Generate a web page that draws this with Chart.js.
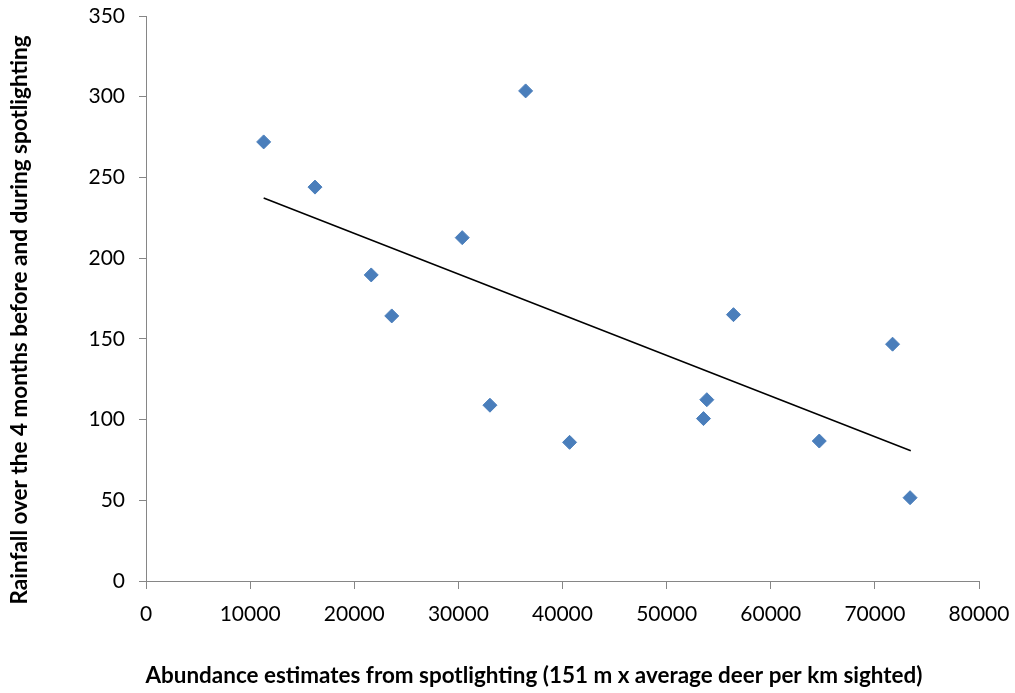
<!DOCTYPE html>
<html>
<head>
<meta charset="utf-8">
<script src="https://cdn.jsdelivr.net/npm/chart.js@4.4.1/dist/chart.umd.min.js"></script>
<style>
    html, body { margin: 0; padding: 0; background: #fff; }
    #wrap { width: 1015px; height: 693px; }
</style>
</head>
<body>
<div id="wrap"><canvas id="chart" width="1015" height="693"></canvas></div>
<script>
// Observed points: abundance (x) vs rainfall (y)
const abundance = [11300, 16230, 21630, 23600, 30370, 36460, 33030, 40680, 53860, 53540, 56420, 64660, 71700, 73380];
const rainfall = [272, 244, 189.6, 164.2, 212.7, 303.6, 108.9, 85.9, 112.3, 100.6, 165, 86.7, 146.7, 51.6];

// Linear trendline end points
const trendX = [11300, 73450];
const trendY = [237.3, 80.7];

const xTitle = 'Abundance estimates from spotlighting (151 m x average deer per km sighted)';
const yTitle = 'Rainfall over the 4 months before and during spotlighting';

const axisGrey = '#868686';
const tickFont = { family: 'Lato', size: 21 };

// Excel-style axis titles (not centred on the plot area)
const axisTitles = {
    id: 'axisTitles',
    afterDraw(chart) {
        const ctx = chart.ctx;
        ctx.save();
        ctx.fillStyle = '#000';
        ctx.font = 'bold 22.5px Lato';
        ctx.textAlign = 'center';
        ctx.textBaseline = 'middle';
        ctx.fillText(xTitle, 534, 676, 777);
        ctx.translate(20, 320);
        ctx.rotate(-Math.PI / 2);
        ctx.fillText(yTitle, 0, 0, 577);
        ctx.restore();
    }
};

new Chart(document.getElementById('chart').getContext('2d'), {
    type: 'scatter',
    data: {
        datasets: [
            {
                label: 'Rainfall',
                data: abundance.map((x, i) => ({ x: x, y: rainfall[i] })),
                pointStyle: 'rectRot',
                pointRadius: 7,
                pointBackgroundColor: '#4A7EBB',
                pointBorderColor: '#4A7EBB',
                pointBorderWidth: 1
            },
            {
                label: 'Linear trend',
                data: trendX.map((x, i) => ({ x: x, y: trendY[i] })),
                showLine: true,
                borderColor: '#000',
                borderWidth: 1.5,
                pointRadius: 0
            }
        ]
    },
    options: {
        responsive: false,
        animation: false,
        layout: { padding: { left: 0, top: 16, right: 36, bottom: 0 } },
        plugins: {
            legend: { display: false },
            tooltip: { enabled: false }
        },
        scales: {
            x: {
                type: 'linear',
                min: 0,
                max: 80000,
                afterFit: (scale) => {
                    scale.height = 112;
                    scale.paddingLeft = 0;
                    scale.paddingRight = 0;
                },
                border: { display: true, color: axisGrey, width: 1 },
                grid: { drawOnChartArea: false, drawTicks: true, tickLength: 8, color: axisGrey },
                ticks: { stepSize: 10000, color: '#000', font: tickFont, padding: 13, maxRotation: 0,
                    callback: (v) => String(v) }
            },
            y: {
                type: 'linear',
                min: 0,
                max: 350,
                afterFit: (scale) => {
                    scale.width = 146;
                    scale.paddingTop = 0;
                    scale.paddingBottom = 0;
                },
                border: { display: true, color: axisGrey, width: 1 },
                grid: { drawOnChartArea: false, drawTicks: true, tickLength: 7, color: axisGrey },
                ticks: { stepSize: 50, color: '#000', font: tickFont, padding: 14,
                    callback: (v) => String(v) }
            }
        }
    },
    plugins: [axisTitles]
});
</script>
</body>
</html>
